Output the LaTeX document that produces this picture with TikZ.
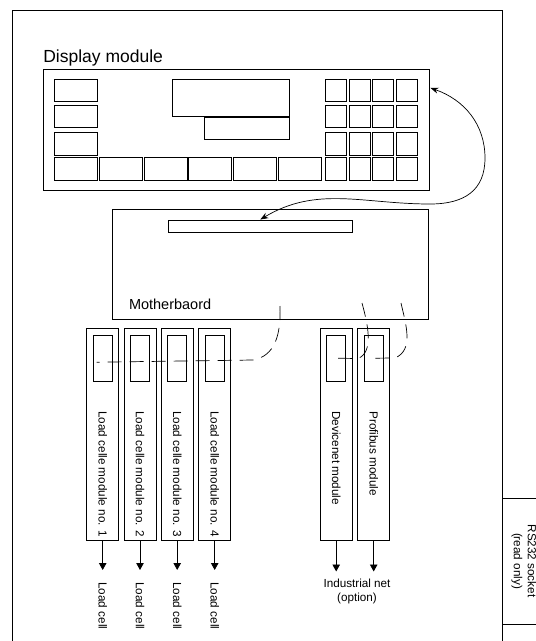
\documentclass[tikz,border=0pt]{standalone}
\usepackage{fontspec}
\setmainfont{Liberation Sans}
\usetikzlibrary{arrows.meta,calc}
\begin{document}
\begin{tikzpicture}[x=1pt, y=-1pt, line width=0.8pt,
    key/.style={draw, inner sep=0, minimum width=43pt, minimum height=22.4pt},
    small key/.style={key, minimum width=21pt},
    card/.style={draw, inner sep=0, minimum width=32pt, minimum height=212.2pt},
    chip/.style={draw, inner sep=0, minimum width=19pt, minimum height=46.3pt},
    card label/.style={rotate=-90, anchor=west, inner sep=0, font=\fontsize{11.7}{14}\selectfont},
    bus/.style={dash pattern=on 14pt off 8pt, line width=0.7pt},
    feed/.style={-{Triangle[length=7pt,width=7.5pt]}},
    link/.style={{Stealth[length=8pt,width=6pt]}-{Stealth[length=8pt,width=6pt]}, line width=0.7pt}]
    \useasboundingbox (0,0) rectangle (536,641);
    % frame and socket
    \draw (12,650) |- (502,10) -- (502,650);
    \node[draw, rotate=-90, minimum width=126pt, minimum height=44pt, align=center,
        font=\fontsize{11.7}{14}\selectfont] (rs) at (524,561) {RS232 socket\\(read only)};
    % display module
    \node[draw, inner sep=0, minimum width=385.7pt, minimum height=120.7pt] (disp) at (236.2,129.7) {};
    \node[anchor=base west, inner sep=0, font=\fontsize{17.5}{20}\selectfont] (disptitle)
        at ([yshift=6.6pt]disp.north west) {Display module};
    \foreach \y [count=\r] in {90.5,116.2,143.8,168.8} {
        \node[key] (key-\r-0) at (75.8,\y) {};
        \foreach \x [count=\c] in {336.3,359.8,383.3,406.8}
            \node[small key] (key-\r-\c) at (\x,\y) {};
    }
    \foreach \x [count=\c] in {120.8,165.7,210.3,255.2,300}
        \node[key] (fkey-\c) at (\x,168.8) {};
    \node[draw, inner sep=0, minimum width=117.3pt, minimum height=36.7pt, anchor=north west] (screen) at (172,79.3) {};
    \node[draw, inner sep=0, minimum width=85.6pt, minimum height=21.7pt, anchor=north east] (subscreen) at (screen.south east) {};
    % motherboard
    \node[draw, inner sep=0, minimum width=316pt, minimum height=110pt] (mb) at (270.3,264.3) {};
    \node[draw, inner sep=0, minimum width=184pt, minimum height=12.7pt] (slot) at (260.3,226.3) {};
    \node[anchor=base west, inner sep=0, font=\fontsize{14.5}{17}\selectfont] (mbtitle)
        at ([xshift=16.7pt,yshift=10pt]mb.south west) {Motherbaord};
    % load cell modules
    \foreach \x/\n in {102.7/1,140/2,177.2/3,214.7/4} {
        \node[card] (lc\n) at (\x,434.6) {};
        \node[chip] (lc\n chip) at (\x,358.2) {};
        \node[card label] (lc\n label) at (\x,411) {Load celle module no. \n};
        \node[card label] (cell\n) at (\x,582) {Load cell};
        \draw[feed] (lc\n.south) -- ($(cell\n.west)+(0,-12)$);
    }
    % fieldbus modules
    \node[card] (dn) at (336.2,434.6) {};
    \node[chip] (dnchip) at (336.2,358.2) {};
    \node[card label] (dnlabel) at (336.2,411) {Devicenet module};
    \node[card] (pb) at (373.7,434.6) {};
    \node[chip] (pbchip) at (373.7,358.2) {};
    \node[card label] (pblabel) at (373.7,411) {Profibus module};
    \node[anchor=north, align=center, inner sep=0, font=\fontsize{11.7}{14.5}\selectfont] (net)
        at (357,578.5) {Industrial net\\(option)};
    \draw[feed] (dn.south) -- ($(dn.south |- net.north)+(0,-7)$);
    \draw[feed] (pb.south) -- ($(pb.south |- net.north)+(0,-7)$);
    % bus lines
    \coordinate (tapL) at (280,306);
    \coordinate (tapA) at (362,303);
    \coordinate (tapB) at (401,303);
    \draw[bus] (tapL) .. controls (281,335) and (275,356) .. (253,360) -- ($(lc1chip.center)+(-6,4)$);
    \draw[bus] (tapA) .. controls (368,325) and (374,352) .. (358,358.5) -- (dnchip.center);
    \draw[bus] (tapB) .. controls (406,325) and (414,350) .. (395,358) -- (pbchip.center);
    % display link
    \coordinate (dispport) at ($(disp.north east)+(1,19)$);
    \draw[link] (dispport) .. controls (465,100) and (485,125) .. (485,158)
        .. controls (485,190) and (465,204) .. (430,204)
        .. controls (363,204) and (317,185.5) .. (slot.north);
\end{tikzpicture}
\end{document}
